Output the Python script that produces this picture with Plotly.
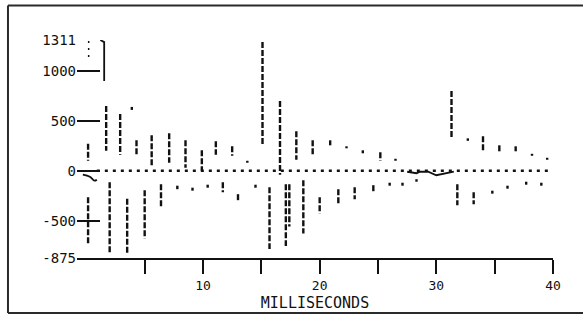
import plotly.graph_objects as go

# ---- data (time in ms, amplitude in chart units) ----
pos_t  = [0.15, 1.7, 2.9, 3.9, 4.3, 5.6, 7.1, 8.5, 9.9, 11.1, 12.5, 13.8, 15.1, 16.6,
          18.0, 19.4, 20.9, 22.3, 23.7, 25.2, 26.5, 31.3, 32.7, 34.0, 35.4, 36.8, 38.2, 39.5]
pos_hi = [270, 650, 570, 640, 305, 355, 375, 305, 205, 295, 245, 100, 1290, 700,
          395, 305, 305, 245, 205, 185, 120, 800, 325, 345, 255, 245, 170, 130]
pos_lo = [100, 200, 160, 610, 160, 50, 80, 30, 0, 160, 150, 80, 255, -40,
          110, 160, 255, 225, 175, 100, 100, 325, 300, 195, 180, 195, 150, 110]

neg_t  = [0.15, 2.0, 3.5, 5.0, 6.4, 7.8, 9.1, 10.4, 11.7, 13.0, 14.5, 15.7, 17.1, 17.4,
          18.6, 20.0, 21.6, 23.0, 24.6, 26.0, 27.1, 28.3, 31.8, 33.2, 34.8, 36.1, 37.7, 39.0]
neg_hi = [-265, -115, -280, -195, -135, -150, -170, -140, -115, -235, -140, -165, -135, -135,
          -95, -265, -185, -165, -145, -120, -120, -85, -135, -215, -200, -150, -110, -120]
neg_lo = [-737, -835, -835, -680, -365, -185, -200, -170, -215, -315, -170, -785, -755, -560,
          -630, -430, -335, -285, -215, -150, -150, -110, -345, -335, -230, -180, -140, -150]

top_t, top_hi, top_lo = [0.2], [1300], [1130]

zero_t = [0.9, 39.8]
zero_v = [0, 0]

wave_t = [27.5, 28.3, 28.6, 29.3, 30.0, 30.8, 31.5]
wave_v = [-10, -25, -10, -10, -45, -30, -10]

wiggle_t = [-0.3, 0.3, 0.7, 0.9]
wiggle_v = [-40, -60, -100, -90]

bracket_t = [1.2, 1.53, 1.53]
bracket_v = [1311, 1290, 900]

y_ticks = [1311, 1000, 500, 0, -500, -875]
y_labels = ["1311", "1000", "500", "0", "-500", "-875"]
x_ticks = [5, 10, 15, 20, 25, 30, 35, 40]
x_labels = ["", "10", "", "20", "", "30", "", "40"]


def segments(ts, a, b):
    xs, ys = [], []
    for t, v1, v2 in zip(ts, a, b):
        xs += [t, t, None]
        ys += [v1, v2, None]
    return xs, ys


ink = "#111111"
fig = go.Figure()

px_, py_ = segments(pos_t, pos_hi, pos_lo)
fig.add_trace(go.Scatter(x=px_, y=py_, mode="lines",
                         line=dict(color=ink, width=2.4, dash="6px,2px"), hoverinfo="skip"))
nx_, ny_ = segments(neg_t, neg_hi, neg_lo)
fig.add_trace(go.Scatter(x=nx_, y=ny_, mode="lines",
                         line=dict(color=ink, width=2.4, dash="6px,2px"), hoverinfo="skip"))
tx_, ty_ = segments(top_t, top_hi, top_lo)
fig.add_trace(go.Scatter(x=tx_, y=ty_, mode="lines",
                         line=dict(color=ink, width=1.5, dash="2px,5px"), hoverinfo="skip"))
fig.add_trace(go.Scatter(x=zero_t, y=zero_v, mode="lines",
                         line=dict(color=ink, width=2.6, dash="3px,5px"), hoverinfo="skip"))
fig.add_trace(go.Scatter(x=wave_t, y=wave_v, mode="lines",
                         line=dict(color=ink, width=1.8), hoverinfo="skip"))
fig.add_trace(go.Scatter(x=wiggle_t, y=wiggle_v, mode="lines", line_shape="spline",
                         line=dict(color=ink, width=1.8), hoverinfo="skip"))
fig.add_trace(go.Scatter(x=bracket_t, y=bracket_v, mode="lines",
                         line=dict(color=ink, width=1.8), hoverinfo="skip"))

frame = dict(color="#2a2a2a", width=2)
fx0, fx1, fy0, fy1 = -0.145, 1.063, -0.252, 1.158

mono = "DejaVu Sans Mono"
fig.update_layout(
    width=583, height=321,
    margin=dict(l=77, r=30, t=40, b=59),
    paper_bgcolor="white", plot_bgcolor="white",
    showlegend=False,
    font=dict(family=mono, color=ink, size=13),
    xaxis=dict(range=[-0.8, 40], showgrid=False, zeroline=False,
               showline=True, linecolor=ink, linewidth=2,
               ticks="outside", ticklen=14, tickwidth=1.5, tickcolor=ink,
               tickvals=x_ticks, ticktext=x_labels,
               tickfont=dict(family=mono, size=13),
               title=dict(text="MILLISECONDS", font=dict(family=mono, size=15), standoff=6)),
    yaxis=dict(range=[-875, 1311], showgrid=False, zeroline=False, showline=False,
               ticks="inside", ticklen=23, tickwidth=1.5, tickcolor=ink,
               tickvals=y_ticks, ticktext=y_labels,
               tickfont=dict(family=mono, size=14)),
    shapes=[
        dict(type="line", xref="paper", yref="paper", x0=fx0, x1=fx0, y0=fy0, y1=fy1, line=frame),
        dict(type="line", xref="paper", yref="paper", x0=fx0, x1=fx1, y0=fy1, y1=fy1, line=frame),
        dict(type="line", xref="paper", yref="paper", x0=fx0, x1=fx1, y0=fy0, y1=fy0, line=frame),
    ],
)

fig.write_html("out.html")
